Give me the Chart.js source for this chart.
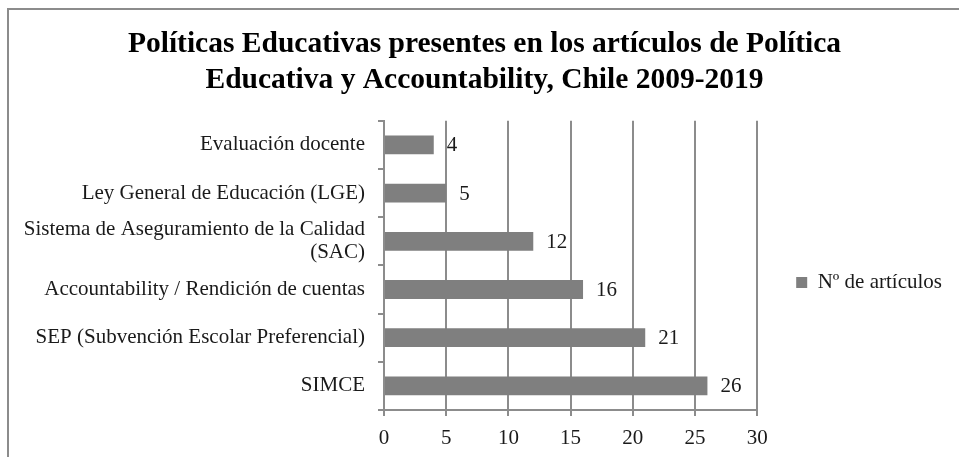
<!DOCTYPE html>
<html>
<head>
<meta charset="utf-8">
<script src="https://cdn.jsdelivr.net/npm/chart.js@4.4.0/dist/chart.umd.min.js"></script>
<style>
  body { margin: 0; background: #fff; overflow: hidden; }
  #wrap { position: relative; width: 959px; height: 457px; }
  #frame {
    position: absolute; left: 7px; top: 8px; width: 1000px; height: 500px;
    border-top: 2px solid #8c8c8c; border-left: 2px solid #8c8c8c;
  }
  #chart { position: absolute; left: 0; top: 0; }
</style>
</head>
<body>
<div id="wrap">
  <div id="frame"></div>
  <canvas id="chart" width="959" height="457"></canvas>
</div>
<script>
const titleLines = [
  "Políticas Educativas presentes en los artículos de Política",
  "Educativa y Accountability, Chile 2009-2019",
];
const categorias = [
  "Evaluación docente",
  "Ley General de Educación (LGE)",
  ["Sistema de Aseguramiento de la Calidad", "(SAC)"],
  "Accountability / Rendición de cuentas",
  "SEP (Subvención Escolar Preferencial)",
  "SIMCE",
];
const articulos = [4, 5, 12, 16, 21, 26];
const serieNombre = "Nº de artículos";
const ejeMin = 0;
const ejeMax = 30;
const ejePaso = 5;

const serif = "'Liberation Serif', 'Times New Roman', serif";
const gris = "#7f7f7f";
const lineas = "#8c8c8c";

// etiquetas de valor a la derecha de cada barra
const valueLabels = {
  id: "valueLabels",
  afterDatasetsDraw(chart) {
    const ctx = chart.ctx;
    const meta = chart.getDatasetMeta(0);
    ctx.save();
    ctx.font = "21px " + serif;
    ctx.fillStyle = "#1a1a1a";
    ctx.textAlign = "left";
    ctx.textBaseline = "middle";
    meta.data.forEach((bar, i) => {
      ctx.fillText(String(articulos[i]), bar.x + 13, bar.y + 1);
    });
    ctx.restore();
  },
};

new Chart(document.getElementById("chart"), {
  type: "bar",
  data: {
    labels: categorias,
    datasets: [
      {
        label: serieNombre,
        data: articulos,
        backgroundColor: gris,
        borderWidth: 0,
        categoryPercentage: 1,
        barPercentage: 0.39,
      },
    ],
  },
  options: {
    indexAxis: "y",
    responsive: false,
    animation: false,
    layout: { padding: { left: 17, right: 7, top: 12, bottom: 0 } },
    plugins: {
      title: {
        display: true,
        text: titleLines,
        color: "#000",
        font: { family: serif, size: 29.5, weight: "bold", lineHeight: 1.2 },
        padding: { top: 15, bottom: 23 },
      },
      legend: {
        display: true,
        position: "right",
        align: "center",
        title: { display: true, text: " ", font: { size: 10, lineHeight: 1 }, padding: { top: 86, bottom: 0 } },
        labels: {
          boxWidth: 11,
          boxHeight: 11,
          padding: 39,
          color: "#1a1a1a",
          font: { family: serif, size: 21 },
        },
      },
      tooltip: { enabled: false },
    },
    scales: {
      x: {
        min: ejeMin,
        max: ejeMax,
        ticks: {
          stepSize: ejePaso,
          padding: 10,
          color: "#1a1a1a",
          font: { family: serif, size: 21 },
        },
        grid: { color: lineas, lineWidth: 2, tickLength: 6, drawTicks: true },
        border: { color: lineas, width: 2 },
        afterFit(scale) {
          scale.height = 47;
        },
      },
      y: {
        offset: true,
        ticks: {
          autoSkip: false,
          padding: 13,
          color: "#1a1a1a",
          font: { family: serif, size: 21, lineHeight: 1.1 },
        },
        grid: {
          offset: true,
          drawOnChartArea: false,
          drawTicks: true,
          tickLength: 6,
          color: lineas,
          lineWidth: 2,
        },
        border: { color: lineas, width: 2 },
        afterFit(scale) {
          scale.width = 367;
        },
      },
    },
  },
  plugins: [valueLabels],
});
</script>
</body>
</html>
